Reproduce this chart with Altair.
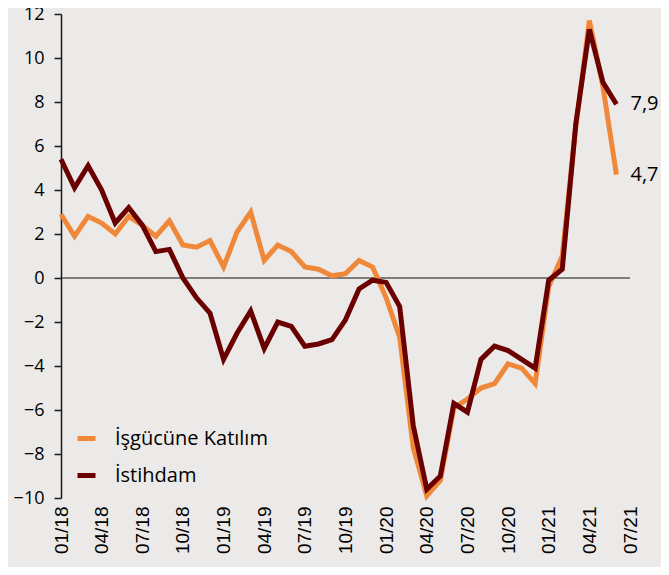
import json
import altair as alt
import pandas as pd

# ---- data ----
months = ["01/18", "02/18", "03/18", "04/18", "05/18", "06/18", "07/18", "08/18", "09/18", "10/18", "11/18", "12/18",
          "01/19", "02/19", "03/19", "04/19", "05/19", "06/19", "07/19", "08/19", "09/19", "10/19", "11/19", "12/19",
          "01/20", "02/20", "03/20", "04/20", "05/20", "06/20", "07/20", "08/20", "09/20", "10/20", "11/20", "12/20",
          "01/21", "02/21", "03/21", "04/21", "05/21", "06/21"]

series_names = ["İşgücüne Katılım", "İstihdam"]

katilim = [2.9, 1.9, 2.8, 2.5, 2.0, 2.8, 2.4, 1.9, 2.6, 1.5, 1.4, 1.7,
           0.5, 2.1, 3.0, 0.8, 1.5, 1.2, 0.5, 0.4, 0.1, 0.2, 0.8, 0.5,
           -0.9, -2.7, -7.7, -9.9, -9.2, -5.9, -5.5, -5.0, -4.8, -3.9, -4.1, -4.8,
           -0.4, 1.0, 6.9, 11.7, 8.7, 4.7]

istihdam = [5.4, 4.1, 5.1, 4.0, 2.5, 3.2, 2.4, 1.2, 1.3, 0.0, -0.9, -1.6,
            -3.7, -2.5, -1.5, -3.2, -2.0, -2.2, -3.1, -3.0, -2.8, -1.9, -0.5, -0.1,
            -0.2, -1.3, -6.7, -9.6, -9.0, -5.7, -6.1, -3.7, -3.1, -3.3, -3.7, -4.1,
            -0.1, 0.4, 7.0, 11.3, 8.9, 7.9]

tick_labels = ["01/18", "04/18", "07/18", "10/18", "01/19", "04/19", "07/19", "10/19",
               "01/20", "04/20", "07/20", "10/20", "01/21", "04/21", "07/21"]

y_ticks = [-10, -8, -6, -4, -2, 0, 2, 4, 6, 8, 10, 12]

colors = ["#F0883A", "#6B0000"]
bg = "#ECEAE8"

# ---- tables ----
rows = []
for i, m in enumerate(months):
    rows.append({"idx": i, "ay": m, "seri": series_names[0], "deger": katilim[i]})
    rows.append({"idx": i, "ay": m, "seri": series_names[1], "deger": istihdam[i]})
df = pd.DataFrame(rows)

last = pd.DataFrame({
    "idx": [len(months) - 1, len(months) - 1],
    "deger": [katilim[-1], istihdam[-1]],
    "etiket": [f"{katilim[-1]:.1f}".replace(".", ","), f"{istihdam[-1]:.1f}".replace(".", ",")],
})

x_max = 3 * (len(tick_labels) - 1)
zero = pd.DataFrame({"x": [0], "x2": [x_max], "y": [0]})

xscale = alt.Scale(domain=[0, x_max], nice=False, zero=False)
yscale = alt.Scale(domain=[-10, 12], nice=False)

xaxis = alt.Axis(
    values=list(range(0, x_max + 1, 3)),
    labelExpr=json.dumps(tick_labels, ensure_ascii=False) + "[round(datum.value/3)]",
    labelAngle=270, labelAlign="right", labelBaseline="middle",
    domain=False, ticks=False, tickSize=0, grid=False,
    labelFontSize=19, labelFont="Liberation Sans", labelColor="black",
    labelPadding=8, labelOverlap=False, labelBound=False, labelFlush=False, title=None,
)
yaxis = alt.Axis(
    values=y_ticks, grid=False,
    domainColor="#1a1a1a", domainWidth=1.5, tickColor="#1a1a1a", tickWidth=1.5, tickSize=7,
    labelFontSize=18, labelFont="Open Sans", labelColor="black", labelPadding=10, title=None,
    labelFlush=False, labelBound=False,
)

cscale = alt.Scale(domain=series_names, range=colors)
legend = alt.Legend(
    orient="none", legendX=14, legendY=413, title=None,
    symbolType="stroke", symbolSize=324, symbolStrokeWidth=5,
    labelFontSize=20, labelFont="Open Sans", labelColor="black", labelLimit=400,
    labelOffset=17, rowPadding=15, padding=0,
)

zero_rule = alt.Chart(zero).mark_rule(color="#111111", strokeWidth=1).encode(
    x=alt.X("x:Q", scale=xscale, axis=xaxis),
    x2="x2:Q",
    y=alt.Y("y:Q", scale=yscale, axis=yaxis),
)

def line_layer(name):
    return alt.Chart(df).transform_filter(alt.datum.seri == name).mark_line(strokeWidth=5).encode(
        x=alt.X("idx:Q", scale=xscale, axis=xaxis),
        y=alt.Y("deger:Q", scale=yscale, axis=yaxis),
        color=alt.Color("seri:N", scale=cscale, legend=legend),
        order="idx:Q",
    )

texts = alt.Chart(last).mark_text(
    align="left", baseline="middle", dx=14, fontSize=20, font="Open Sans", color="black"
).encode(
    x=alt.X("idx:Q", scale=xscale),
    y=alt.Y("deger:Q", scale=yscale),
    text="etiket:N",
)

chart = alt.layer(zero_rule, line_layer(series_names[0]), line_layer(series_names[1]), texts).properties(
    width=569, height=484,
    padding={"left": 53, "top": 6, "right": 31, "bottom": 69},
    autosize=alt.AutoSizeParams(type="none"),
    background=bg,
).configure_view(stroke=None)

chart.save("out.html", embed_options={"renderer": "svg", "actions": False})
